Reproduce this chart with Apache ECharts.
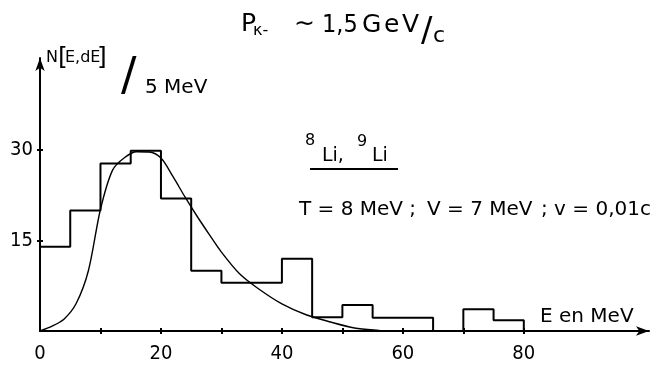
<!DOCTYPE html>
<html>
<head>
<meta charset="utf-8">
<script src="https://cdn.jsdelivr.net/npm/echarts@6/dist/echarts.min.js"></script>
<style>
  html, body { margin: 0; padding: 0; background: #fff; }
  #chart { width: 657px; height: 369px; }
</style>
</head>
<body>
<div id="chart"></div>
<script>
// Energy spectrum of 8Li / 9Li fragments, 5 MeV bins
const binEdges  = [0, 5, 10, 15, 20, 25, 30, 35, 40, 45, 50, 55, 60, 65, 70, 75, 80];
const binCounts = [14, 20, 27.8, 29.9, 22, 10, 8, 8, 12, 2.3, 4.3, 2.2, 2.2, 0, 3.6, 1.8];

// Evaporation-model curve (T = 8 MeV, V = 7 MeV, v = 0.01c)
const curveE = [0, 2, 4, 6, 8, 10, 12, 14, 16, 18, 20, 22, 24, 26, 28, 30,
                33, 36, 40, 44, 48, 52, 56, 58];
const curveN = [0, 0.8, 2.0, 4.6, 10.0, 20.2, 26.7, 28.8, 29.75, 29.7, 28.7, 25.6, 22.2, 19.0, 16.0, 13.1,
                9.5, 7.1, 4.5, 2.7, 1.5, 0.5, 0.1, 0];

// Axis ticks and labels
const xTickLabels = [0, 20, 40, 60, 80];
const xTickMarks  = [10, 20, 30, 40, 50, 60, 70, 80];
const yTickLabels = [15, 30];
const yTickMarks  = [15, 30];

const X_MAX = 100.7;
const Y_MAX = 45.3;

const FONT = "'DejaVu Sans', sans-serif";
const NUMFONT = "'DejaVu Sans Condensed', 'DejaVu Sans', sans-serif";

// histogram outline as a step line
const histData = binCounts.map((c, i) => [binEdges[i], c]);
histData.push([binEdges[binEdges.length - 1], binCounts[binCounts.length - 1]]);
histData.push([binEdges[binEdges.length - 1], 0]);

const curveData = curveE.map((e, i) => [e, curveN[i]]);

function txt(text, x, y, size, font, extra) {
  return {
    type: 'text', x: x, y: y, silent: true,
    style: Object.assign({
      text: text, fontSize: size, fontFamily: font || FONT,
      fill: '#000', align: 'left', verticalAlign: 'middle'
    }, extra || {})
  };
}

const axisLineStyle = { color: '#000', width: 2 };

const chart = echarts.init(document.getElementById('chart'));
chart.setOption({
  animation: false,
  backgroundColor: '#fff',
  grid: { left: 40, right: 8, top: 58, bottom: 38, outerBoundsMode: 'none' },
  xAxis: [
    {
      type: 'value', min: 0, max: X_MAX,
      axisLine: { show: true, onZero: false, symbol: ['none', 'arrow'], symbolSize: [7, 13], lineStyle: axisLineStyle },
      splitLine: { show: false },
      axisTick: { show: true, customValues: xTickMarks, length: 3, inside: false, lineStyle: { color: '#000', width: 2 } },
      axisLabel: { customValues: xTickLabels, margin: 13, fontSize: 20, color: '#000', fontFamily: NUMFONT, showMinLabel: true }
    },
    {
      type: 'value', min: 0, max: X_MAX, position: 'bottom',
      axisLine: { show: false },
      splitLine: { show: false },
      axisTick: { show: true, customValues: xTickMarks, length: 3, inside: true, lineStyle: { color: '#000', width: 2 } },
      axisLabel: { show: false }
    }
  ],
  yAxis: [
    {
      type: 'value', min: 0, max: Y_MAX,
      axisLine: { show: true, onZero: false, symbol: ['none', 'arrow'], symbolSize: [7, 13], lineStyle: axisLineStyle },
      splitLine: { show: false },
      axisTick: { show: true, customValues: yTickMarks, length: 3, inside: false, lineStyle: { color: '#000', width: 2 } },
      axisLabel: { customValues: yTickLabels, margin: 7, fontSize: 20, color: '#000', fontFamily: NUMFONT }
    },
    {
      type: 'value', min: 0, max: Y_MAX, position: 'left',
      axisLine: { show: false },
      splitLine: { show: false },
      axisTick: { show: true, customValues: yTickMarks, length: 3, inside: true, lineStyle: { color: '#000', width: 2 } },
      axisLabel: { show: false }
    }
  ],
  series: [
    {
      type: 'line', name: 'histogram', xAxisIndex: 0, yAxisIndex: 0,
      step: 'end', symbol: 'none', data: histData,
      lineStyle: { color: '#000', width: 2 }
    },
    {
      type: 'line', name: 'model', xAxisIndex: 0, yAxisIndex: 0,
      smooth: 0.3, symbol: 'none', data: curveData,
      lineStyle: { color: '#000', width: 1.4 }
    }
  ],
  graphic: [
    // title: P_K- ~ 1,5 GeV/c
    txt('P', 241, 24, 25),
    txt('\u03BA-', 253, 31, 16),
    txt('\u223C', 294, 24, 25),
    txt('1,5', 322, 25, 25, NUMFONT),
    txt('G', 362, 25, 25),
    txt('e', 384, 25, 25),
    txt('V', 402, 25, 25),
    txt('/', 421, 32, 34),
    txt('c', 433, 36, 22),
    // y-axis name: N[E,dE]/5 MeV
    txt('N', 46, 58, 16),
    txt('[', 58, 58, 25),
    txt('E,dE', 65, 58, 16),
    txt(']', 97, 58, 25),
    txt('/', 121, 78, 46),
    txt('5 MeV', 145, 88, 20),
    // nuclei
    txt('8', 305, 141, 16),
    txt('Li,', 322, 156, 19),
    txt('9', 357, 142, 16),
    txt('Li', 372, 156, 19),
    { type: 'line', silent: true, shape: { x1: 310, y1: 169, x2: 398, y2: 169 }, style: { stroke: '#000', lineWidth: 2 } },
    // model parameters
    txt('T = 8 MeV ;', 299, 210, 20),
    txt('V = 7 MeV', 427, 210, 20),
    txt('; v = 0,01c', 541, 210, 20),
    // x-axis name
    txt('E en MeV', 540, 317, 20)
  ]
});
</script>
</body>
</html>
